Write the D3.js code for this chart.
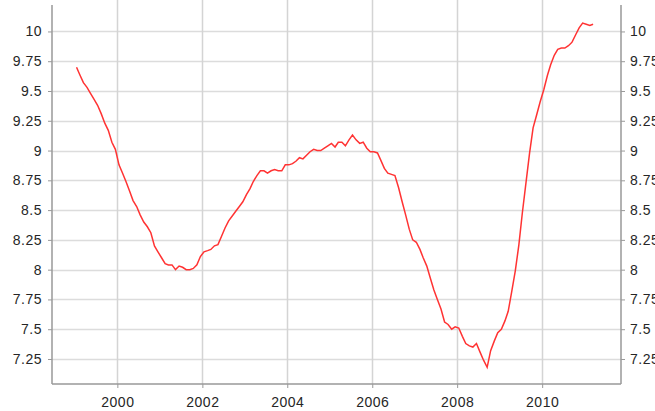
<!DOCTYPE html>
<html>
<head>
<meta charset="utf-8">
<script src="https://cdn.jsdelivr.net/npm/d3@7"></script>
<style>
  body { margin: 0; background: #fff; }
  svg { display: block; }
  .tick text { font-family: "Liberation Sans", Arial, sans-serif; font-size: 14px; letter-spacing: 0.5px; fill: #262626; }
</style>
</head>
<body>
<svg id="chart" width="655" height="411"></svg>
<script>
// monthly series, first value is January 1999
var startYear = 1999, startMonth = 0;
var values = [
  9.70, 9.63, 9.57, 9.53, 9.48, 9.43, 9.38, 9.31, 9.23, 9.17, 9.07, 9.01,
  8.88, 8.81, 8.74, 8.66, 8.58, 8.53, 8.46, 8.40, 8.36, 8.31, 8.20, 8.15,
  8.10, 8.05, 8.04, 8.04, 8.00, 8.03, 8.02, 8.00, 8.00, 8.01, 8.04, 8.11,
  8.15, 8.16, 8.17, 8.20, 8.21, 8.28, 8.35, 8.41, 8.45, 8.49, 8.53, 8.57,
  8.63, 8.68, 8.74, 8.79, 8.83, 8.83, 8.81, 8.83, 8.84, 8.83, 8.83, 8.88,
  8.88, 8.89, 8.91, 8.94, 8.93, 8.96, 8.99, 9.01, 9.00, 9.00, 9.02, 9.04,
  9.06, 9.03, 9.07, 9.07, 9.04, 9.09, 9.13, 9.09, 9.06, 9.07, 9.02, 8.99,
  8.99, 8.98, 8.92, 8.85, 8.81, 8.80, 8.79, 8.69, 8.57, 8.46, 8.34, 8.25,
  8.23, 8.17, 8.10, 8.03, 7.93, 7.83, 7.75, 7.67, 7.56, 7.54, 7.50, 7.52,
  7.51, 7.44, 7.38, 7.36, 7.35, 7.38, 7.31, 7.24, 7.18, 7.32, 7.40, 7.47,
  7.50, 7.57, 7.65, 7.82, 7.99, 8.21, 8.48, 8.73, 8.98, 9.19, 9.30, 9.41,
  9.51, 9.63, 9.72, 9.80, 9.85, 9.86, 9.86, 9.88, 9.91, 9.97, 10.03, 10.07,
  10.06, 10.05, 10.06
];
var yTicks = [7.25, 7.5, 7.75, 8, 8.25, 8.5, 8.75, 9, 9.25, 9.5, 9.75, 10];
var xTickYears = [2000, 2002, 2004, 2006, 2008, 2010];

var data = values.map(function(v, i){
  return {date: new Date(startYear, startMonth + i, 15), value: v};
});

var svg = d3.select("#chart");
var pl = 52, pr = 621, pt = 5, pb = 384;

var x = d3.scaleTime()
  .domain([new Date(1998, 5, 18), new Date(2011, 10, 10)])
  .range([pl, pr]);
var y = d3.scaleLinear()
  .domain([7.04, 10.222])
  .range([pb, pt]);

// grid
svg.append("g").selectAll("line").data(yTicks).enter()
  .append("line")
  .attr("x1", pl).attr("x2", pr)
  .attr("y1", function(d){ return Math.round(y(d)) + 0.5; })
  .attr("y2", function(d){ return Math.round(y(d)) + 0.5; })
  .style("stroke", "#dcdcdc").style("stroke-width", 1.5);

svg.append("g").selectAll("line").data(xTickYears).enter()
  .append("line")
  .attr("x1", function(d){ return Math.round(x(new Date(d, 0, 1))) + 0.5; })
  .attr("x2", function(d){ return Math.round(x(new Date(d, 0, 1))) + 0.5; })
  .attr("y1", 0).attr("y2", pb)
  .style("stroke", "#d4d4d4").style("stroke-width", 1.5);

// axes
var fmt = function(d){ return String(d); };
var axL = svg.append("g").attr("transform", "translate(" + pl + ",0)")
  .call(d3.axisLeft(y).tickValues(yTicks).tickFormat(fmt).tickSize(4).tickPadding(6));
var axR = svg.append("g").attr("transform", "translate(" + pr + ",0)")
  .call(d3.axisRight(y).tickValues(yTicks).tickFormat(fmt).tickSize(4).tickPadding(5));
var axB = svg.append("g").attr("transform", "translate(0," + pb + ")")
  .call(d3.axisBottom(x).tickValues(xTickYears.map(function(d){ return new Date(d, 0, 1); }))
    .tickFormat(d3.timeFormat("%Y")).tickSize(4).tickPadding(9));

[axL, axR, axB].forEach(function(g){
  g.select(".domain").remove();
  g.selectAll(".tick line").style("stroke", "#999");
});
axL.append("line").attr("x1", 0).attr("x2", 0).attr("y1", pt).attr("y2", pb)
  .style("stroke", "#999").style("stroke-width", 1.5);
axR.append("line").attr("x1", 0).attr("x2", 0).attr("y1", pt).attr("y2", pb)
  .style("stroke", "#999").style("stroke-width", 1.5);
axB.append("line").attr("x1", pl).attr("x2", pr).attr("y1", 0).attr("y2", 0)
  .style("stroke", "#999").style("stroke-width", 1.5);

// series
var line = d3.line()
  .x(function(d){ return x(d.date); })
  .y(function(d){ return y(d.value); });

svg.append("path").datum(data)
  .attr("d", line)
  .style("fill", "none")
  .style("stroke", "#ff3333")
  .style("stroke-width", 1.5);
</script>
</body>
</html>
